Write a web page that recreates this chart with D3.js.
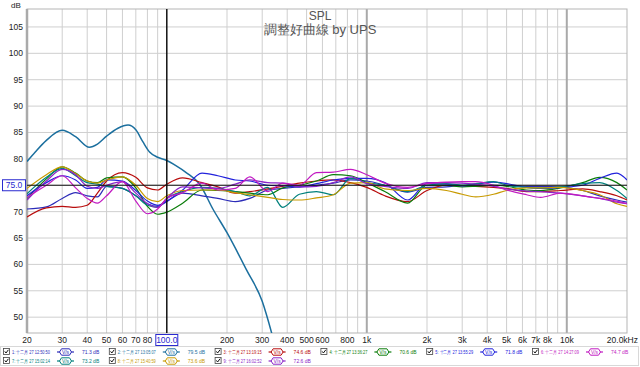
<!DOCTYPE html>
<html>
<head>
<meta charset="utf-8">
<script src="https://cdn.jsdelivr.net/npm/d3@7"></script>
<style>
  body { margin: 0; background: #fff; }
  text { font-family: "Liberation Sans", Arial, sans-serif; }
</style>
</head>
<body>
<div id="chart"></div>
<script>
// shared frequency points (Hz) for the measured traces
const freqs = [20, 25, 30, 35, 40, 45, 50, 60, 70, 80, 90, 100, 120, 150, 180, 220, 260, 320, 380, 460, 560, 680, 830, 1000, 1230, 1600, 2000, 2500, 3000, 3500, 4300, 5000, 6300, 7400, 9300, 12000, 14600, 17800, 20000];

const s1 = [70.5, 70.9, 72.5, 73.6, 73.0, 72.8, 74.8, 74.4, 73.0, 71.5, 71.0, 71.9, 73.5, 73.0, 72.5, 71.9, 72.5, 74.1, 74.4, 74.7, 75.0, 75.4, 76.0, 75.8, 75.0, 73.7, 74.6, 74.7, 75.0, 75.0, 75.0, 75.0, 74.8, 74.8, 74.7, 74.0, 73.0, 72.2, 71.8];
const s3 = [69.0, 70.7, 71.0, 70.8, 71.2, 73.5, 75.8, 77.4, 76.5, 74.5, 74.1, 75.2, 76.4, 75.5, 74.7, 73.5, 73.8, 74.3, 74.8, 75.4, 75.8, 76.0, 75.5, 74.6, 73.0, 71.9, 74.0, 75.0, 74.9, 74.8, 74.6, 74.4, 73.8, 73.8, 74.0, 74.3, 73.8, 73.0, 72.2];
const s4 = [72.5, 76.2, 78.5, 77.3, 75.8, 75.5, 76.4, 76.6, 74.5, 71.0, 69.5, 69.9, 71.6, 74.1, 74.0, 73.8, 73.5, 73.2, 74.5, 75.0, 75.8, 77.0, 76.8, 75.5, 73.8, 71.6, 75.0, 75.0, 74.7, 74.8, 75.0, 74.8, 74.1, 74.0, 74.5, 75.5, 76.5, 75.5, 74.1];
const s5 = [73.0, 75.5, 76.8, 76.0, 74.4, 74.6, 76.0, 75.8, 74.0, 72.0, 71.2, 72.0, 74.1, 77.3, 76.8, 76.0, 75.8, 75.0, 74.9, 74.7, 75.3, 76.0, 76.3, 76.3, 75.5, 72.2, 75.3, 75.2, 74.9, 75.2, 75.6, 75.3, 74.6, 74.4, 74.6, 75.0, 76.3, 77.3, 76.0];
const s6 = [72.7, 75.0, 76.8, 74.5, 72.5, 71.6, 73.0, 75.7, 72.0, 69.6, 70.5, 72.5, 73.6, 75.4, 74.1, 74.4, 76.6, 73.8, 75.4, 75.0, 77.4, 77.5, 78.0, 77.0, 75.4, 74.6, 75.3, 75.6, 75.7, 75.7, 75.0, 74.1, 73.2, 72.7, 73.5, 73.0, 72.5, 72.0, 71.5];
const s7 = [73.4, 76.5, 78.2, 76.8, 75.5, 75.2, 74.8, 74.4, 73.0, 71.2, 70.8, 72.5, 73.8, 74.6, 74.4, 73.8, 73.0, 74.6, 70.8, 73.3, 73.8, 73.2, 76.3, 75.5, 75.0, 73.8, 75.0, 75.3, 75.0, 75.3, 75.7, 75.0, 74.6, 74.5, 74.7, 75.3, 75.5, 74.0, 72.5];
const s8 = [74.4, 77.0, 78.5, 77.2, 75.8, 75.4, 76.0, 76.6, 75.0, 72.5, 71.9, 73.0, 74.0, 74.1, 74.1, 73.6, 73.2, 72.7, 72.3, 72.2, 72.6, 73.2, 75.4, 75.5, 74.3, 74.0, 74.4, 74.0, 73.3, 72.8, 73.3, 74.0, 74.5, 74.5, 74.6, 74.0, 73.2, 71.5, 71.0];
const s9 = [72.2, 75.8, 78.0, 77.0, 74.8, 74.4, 75.0, 75.7, 73.5, 71.5, 70.8, 72.5, 74.7, 74.5, 74.4, 75.2, 76.0, 75.5, 75.4, 74.7, 74.8, 75.5, 76.6, 75.3, 74.8, 74.4, 75.5, 75.5, 75.4, 75.2, 74.8, 74.3, 73.9, 73.8, 73.5, 73.0, 72.5, 71.8, 71.5];

// trace 2 has its own points, it falls off the bottom above 300 Hz
const freqs2 = [20, 22, 25, 30, 35, 41, 45, 50, 57, 64, 70, 76, 82, 90, 100, 110, 125, 146, 170, 200, 250, 300, 340];
const s2 = [79.5, 81.3, 83.5, 85.4, 84.2, 82.2, 82.8, 84.3, 85.8, 86.4, 85.5, 83.2, 81.3, 80.3, 79.7, 78.8, 77.4, 75.2, 70.5, 66.0, 59.0, 53.0, 46.0];

const names = ["1: 十二月 27 12:50:50", "2: 十二月 27 13:05:07", "3: 十二月 27 13:19:15", "4: 十二月 27 13:36:27", "5: 十二月 27 13:55:29", "6: 十二月 27 14:27:09", "7: 十二月 27 15:02:14", "8: 十二月 27 15:40:59", "9: 十二月 27 16:02:52"];
const levels = ["71.3 dB", "79.5 dB", "74.6 dB", "70.6 dB", "71.8 dB", "74.7 dB", "73.2 dB", "73.6 dB", "72.6 dB"];
const colors = ["#2c2cb8", "#1b6f9e", "#b80c0c", "#0b7d0b", "#2222dc", "#c21ac2", "#00807c", "#c89a00", "#8a24c8"];

const yTicks = [50, 55, 60, 65, 70, 75, 80, 85, 90, 95, 100, 105];
const xTicks = [20, 30, 40, 50, 60, 70, 80, 100, 200, 300, 400, 500, 600, 800, 1000, 2000, 3000, 4000, 5000, 6000, 7000, 8000, 10000, 20000];
const xTickLabels = ["20", "30", "40", "50", "60", "70", "80", "100.0", "200", "300", "400", "500", "600", "800", "1k", "2k", "3k", "4k", "5k", "6k", "7k", "8k", "10k", "20.0kHz"];
const gridFreqs = [30, 40, 50, 60, 70, 80, 90, 200, 300, 400, 500, 600, 700, 800, 900, 2000, 3000, 4000, 5000, 6000, 7000, 8000, 9000];
const cursorFreq = 100;
const cursorDb = 75;

const width = 640, height = 367;
const plot = { left: 27, right: 627, top: 9, bottom: 333 };

const svg = d3.select("#chart")
  .append("svg")
  .attr("width", width)
  .attr("height", height);

const x = d3.scaleLog().domain([20, 20000]).range([plot.left, plot.right]);
const y = d3.scaleLinear().domain([47, 108.4]).range([plot.bottom, plot.top]);

svg.append("defs").append("clipPath").attr("id", "clip")
  .append("rect")
  .attr("x", plot.left).attr("y", plot.top)
  .attr("width", plot.right - plot.left).attr("height", plot.bottom - plot.top);

// grid
svg.append("g")
  .selectAll("line")
  .data(yTicks)
  .join("line")
  .attr("x1", plot.left).attr("x2", plot.right)
  .attr("y1", d => y(d)).attr("y2", d => y(d))
  .attr("stroke", "#cfcfcf").attr("stroke-width", 1);

svg.append("g")
  .selectAll("line")
  .data(gridFreqs)
  .join("line")
  .attr("x1", d => x(d)).attr("x2", d => x(d))
  .attr("y1", plot.top).attr("y2", plot.bottom)
  .attr("stroke", "#cfcfcf").attr("stroke-width", 1);

svg.append("g")
  .selectAll("line")
  .data([1000, 10000])
  .join("line")
  .attr("x1", d => x(d)).attr("x2", d => x(d))
  .attr("y1", plot.top).attr("y2", plot.bottom)
  .attr("stroke", "#a9a9a9").attr("stroke-width", 2);

// frame
svg.append("rect")
  .attr("x", plot.left).attr("y", plot.top)
  .attr("width", plot.right - plot.left).attr("height", plot.bottom - plot.top)
  .attr("fill", "none").attr("stroke", "#b5b5b5").attr("stroke-width", 1);
svg.append("line")
  .attr("x1", plot.left).attr("x2", plot.left)
  .attr("y1", plot.top).attr("y2", plot.bottom)
  .attr("stroke", "#aaaaaa").attr("stroke-width", 2.5);

// title
svg.append("text")
  .attr("x", 320).attr("y", 20)
  .attr("text-anchor", "middle")
  .attr("font-size", 12)
  .attr("fill", "#555")
  .text("SPL");
svg.append("text")
  .attr("x", 320).attr("y", 34)
  .attr("text-anchor", "middle")
  .attr("font-size", 13)
  .attr("fill", "#555")
  .text("調整好曲線 by UPS");

// traces
const line = d3.line()
  .x(d => x(d[0]))
  .y(d => y(d[1]))
  .curve(d3.curveMonotoneX);

const series = [s1, s2, s3, s4, s5, s6, s7, s8, s9];
const traces = series.map((vals, i) => ({
  color: colors[i],
  pts: (i === 1 ? freqs2 : freqs).map((f, j) => [f, vals[j]])
}));

const drawOrder = [1, 0, 2, 3, 4, 6, 7, 8, 5];
svg.append("g")
  .attr("clip-path", "url(#clip)")
  .selectAll("path")
  .data(drawOrder.map(i => traces[i]))
  .join("path")
  .attr("d", d => line(d.pts))
  .attr("fill", "none")
  .attr("stroke", d => d.color)
  .attr("stroke-width", (d, i) => i === 0 ? 1.5 : 1.2);

// cursor lines
svg.append("line")
  .attr("x1", x(cursorFreq)).attr("x2", x(cursorFreq))
  .attr("y1", plot.top).attr("y2", plot.bottom)
  .attr("stroke", "#111").attr("stroke-width", 1.5);
svg.append("line")
  .attr("x1", plot.left).attr("x2", plot.right)
  .attr("y1", y(cursorDb)).attr("y2", y(cursorDb))
  .attr("stroke", "#111").attr("stroke-width", 1.2);

// y labels
svg.append("text")
  .attr("x", 16).attr("y", 8)
  .attr("text-anchor", "middle")
  .attr("font-size", 8)
  .attr("fill", "#222")
  .text("dB");
svg.append("g")
  .selectAll("text")
  .data(yTicks.filter(d => d !== cursorDb))
  .join("text")
  .attr("x", 23).attr("y", d => y(d) + 3)
  .attr("text-anchor", "end")
  .attr("font-size", 8.5)
  .attr("fill", "#222")
  .text(d => d);

svg.append("rect")
  .attr("x", 2.5).attr("y", y(cursorDb) - 5.5)
  .attr("width", 23).attr("height", 11)
  .attr("fill", "#fff").attr("stroke", "#2a2ad0").attr("stroke-width", 1);
svg.append("text")
  .attr("x", 14).attr("y", y(cursorDb) + 3)
  .attr("text-anchor", "middle")
  .attr("font-size", 8.5)
  .attr("fill", "#2a2ad0")
  .text(cursorDb.toFixed(1));

// x labels
svg.append("g")
  .selectAll("text")
  .data(xTicks)
  .join("text")
  .attr("x", (d, i) => i === xTicks.length - 1 ? 638 : x(d))
  .attr("y", 343)
  .attr("text-anchor", (d, i) => i === xTicks.length - 1 ? "end" : "middle")
  .attr("font-size", 8.5)
  .attr("fill", d => d === cursorFreq ? "#2a2ad0" : "#222")
  .text((d, i) => xTickLabels[i]);

svg.append("rect")
  .attr("x", x(cursorFreq) - 11).attr("y", 334.5)
  .attr("width", 22).attr("height", 11)
  .attr("fill", "none").attr("stroke", "#2a2ad0").attr("stroke-width", 1);

// legend
svg.append("rect")
  .attr("x", 0.5).attr("y", 346.5)
  .attr("width", 638).attr("height", 19)
  .attr("fill", "none").attr("stroke", "#d8d8d8");

const legend = svg.append("g")
  .selectAll("g")
  .data(names)
  .join("g")
  .attr("transform", (d, i) => `translate(${3 + (i % 6) * 105.8},${i < 6 ? 352 : 361})`);

legend.append("rect")
  .attr("x", 0.5).attr("y", -3.5)
  .attr("width", 6).attr("height", 6)
  .attr("fill", "#fff").attr("stroke", "#444").attr("stroke-width", 0.8);
legend.append("path")
  .attr("d", "M1.8,-0.6 L3,1 L5.4,-2.2")
  .attr("fill", "none").attr("stroke", "#111").attr("stroke-width", 1);

legend.append("text")
  .attr("x", 9).attr("y", 1.8)
  .attr("font-size", 5)
  .attr("textLength", 38)
  .attr("lengthAdjust", "spacingAndGlyphs")
  .attr("font-family", "'Noto Sans CJK TC', sans-serif")
  .attr("fill", (d, i) => colors[i])
  .text(d => d);

legend.append("line")
  .attr("x1", 54).attr("x2", 71)
  .attr("y1", 0).attr("y2", 0)
  .attr("stroke", (d, i) => colors[i]).attr("stroke-width", 1.2);
legend.append("path")
  .attr("d", "M56.5,0 L58.5,-3.2 L66.5,-3.2 L68.5,0 L66.5,3.2 L58.5,3.2 Z")
  .attr("fill", "#fff")
  .attr("stroke", (d, i) => colors[i]).attr("stroke-width", 1);
legend.append("text")
  .attr("x", 62.5).attr("y", 1.8)
  .attr("text-anchor", "middle")
  .attr("font-size", 5)
  .attr("fill", (d, i) => colors[i])
  .text("V/s");

legend.append("text")
  .attr("x", 79).attr("y", 1.8)
  .attr("font-size", 5)
  .attr("fill", (d, i) => colors[i])
  .text((d, i) => levels[i]);
</script>
</body>
</html>
